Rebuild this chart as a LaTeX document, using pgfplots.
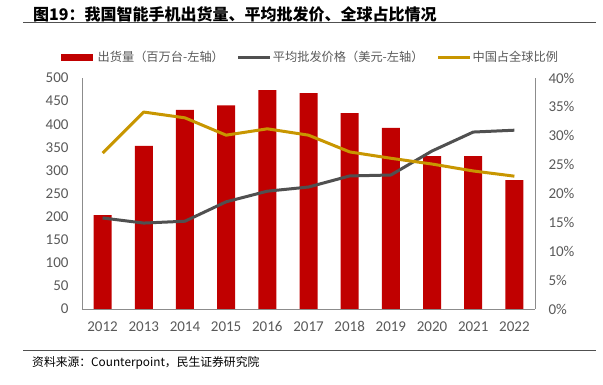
\documentclass[border=0pt]{standalone}
\usepackage{fontspec}
\usepackage{pgfplots}
\pgfplotsset{compat=1.18}
\setmainfont{Carlito}
\newfontfamily\cjk{Noto Sans CJK SC}
\definecolor{cred}{HTML}{C00000}
\definecolor{cgray}{HTML}{505050}
\definecolor{cgold}{HTML}{C89600}
\definecolor{tgray}{HTML}{595959}
\definecolor{agray}{HTML}{8C8C8C}
\begin{document}
\begin{tikzpicture}[x=1pt,y=1pt]
\path[use as bounding box] (0,0) rectangle (603,385);
% title
\node[anchor=west,inner sep=0] at (33,371) {\cjk\bfseries\fontsize{16}{18}\selectfont 图19：我国智能手机出货量、平均批发价、全球占比情况};
\draw[color=cgray,line width=1pt] (23,362.7) -- (596,362.7);
% footer
\draw[color=cgray,line width=0.8pt] (23,34.3) -- (596,34.3);
\node[anchor=west,inner sep=0] at (32,22) {\cjk\fontsize{11.8}{13}\selectfont 资料来源：Counterpoint，民生证券研究院};
\begin{axis}[
  at={(82pt,76pt)}, anchor=south west,
  scale only axis, width=453pt, height=231pt,
  xmin=-0.5, xmax=10.5, ymin=0, ymax=500,
  xtick={0,...,10},
  xticklabels={2012,2013,2014,2015,2016,2017,2018,2019,2020,2021,2022},
  ytick={0,50,...,500},
  axis y line*=left, axis x line*=bottom,
  axis line style={agray, line width=0.8pt},
  y axis line style={-}, x axis line style={-},
  tick style={draw=none},
  ticklabel style={font=\fontsize{15}{17}\selectfont, text=tgray},
  /pgf/number format/assume math mode=true,
  yticklabel style={xshift=-10pt},
  xticklabel style={yshift=-9pt},
]
\addplot[ybar, bar width=18pt, fill=cred, draw=none] coordinates {
(0,203) (1,353) (2,431) (3,441) (4,474) (5,467) (6,424) (7,392) (8,331) (9,331) (10,279)};
\addplot[color=cgray, line width=3pt, line join=round] coordinates {
(0,197) (1,186) (2,190) (3,232) (4,255) (5,264) (6,288) (7,290) (8,342) (9,383) (10,387)};
\end{axis}
\begin{axis}[
  at={(82pt,76pt)}, anchor=south west,
  scale only axis, width=453pt, height=231pt,
  xmin=-0.5, xmax=10.5, ymin=0, ymax=40,
  axis y line*=right, axis x line=none,
  axis line style={agray, line width=0.8pt},
  y axis line style={-},
  ytick={0,5,...,40},
  yticklabel={\pgfmathprintnumber{\tick}\%},
  tick style={draw=none},
  ticklabel style={font=\fontsize{15}{17}\selectfont, text=tgray},
  /pgf/number format/assume math mode=true,
  yticklabel style={xshift=10pt},
  legend style={at={(-0.053,1.0)}, anchor=west, yshift=20.5pt, draw=none, fill=none,
    inner sep=0pt, nodes={inner xsep=1pt, inner ysep=1pt},
    font=\cjk\fontsize{12.2}{14}\selectfont, text=tgray, column sep=0pt,
    /tikz/every even column/.append style={column sep=12pt}},
  legend columns=3,
  legend image code/.code={\draw[#1] (0pt,0pt) -- (32pt,0pt);},
]
\addlegendimage{color=cred, line width=6.5pt}
\addlegendentry{出货量（百万台-左轴）}
\addlegendimage{color=cgray, line width=3pt}
\addlegendentry{平均批发价格（美元-左轴）}
\addplot[color=cgold, line width=3pt, line join=round] coordinates {
(0,27.0) (1,34.1) (2,33.1) (3,30.1) (4,31.2) (5,30.1) (6,27.2) (7,26.1) (8,25.1) (9,23.9) (10,23.0)};
\addlegendentry{中国占全球比例}
\end{axis}
\end{tikzpicture}
\end{document}
